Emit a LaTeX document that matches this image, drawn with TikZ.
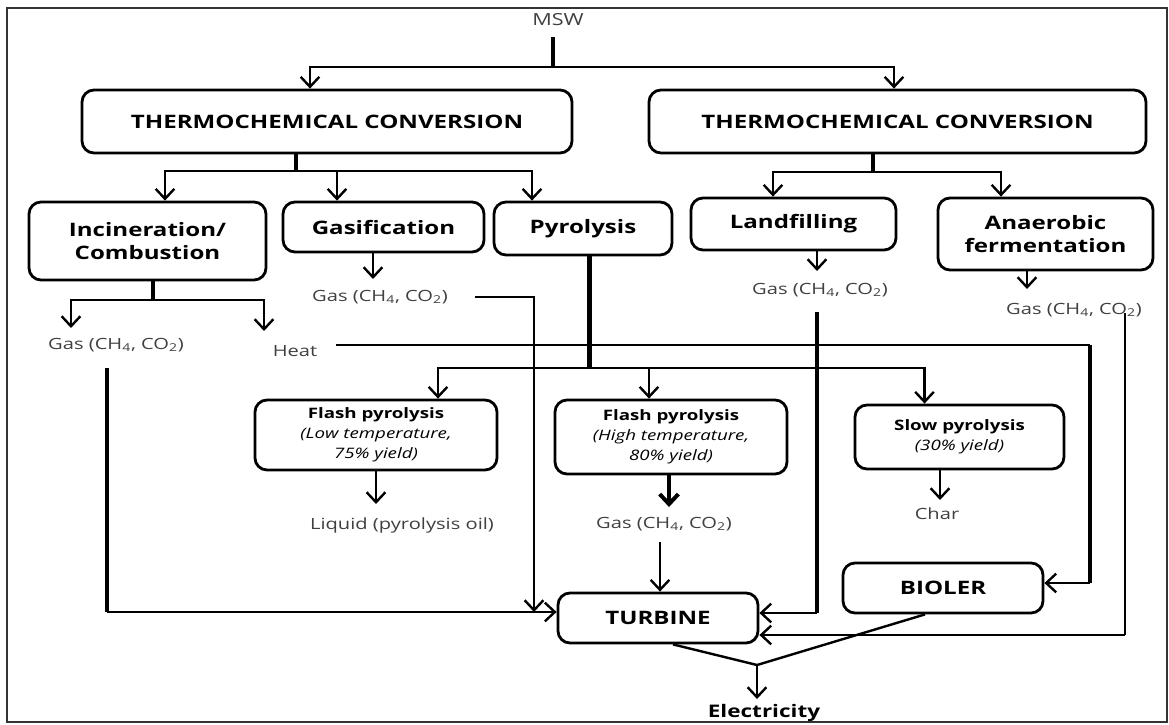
\documentclass[tikz,border=0pt]{standalone}
\usepackage{fontspec}
\setmainfont{Open Sans}[FakeStretch=1.3]
\usetikzlibrary{arrows.meta,calc}
\tikzset{
  box/.style={draw, line width=2.1pt, rounded corners=9pt, align=center, inner sep=0pt,
    font=\bfseries\fontsize{13.9pt}{17.5pt}\selectfont},
  sbox/.style={box, font=\fontsize{10.8pt}{15pt}\selectfont},
  lbl/.style={inner sep=0pt, font=\fontsize{11.6pt}{14pt}\selectfont, text=black!75},
  blbl/.style={inner sep=0pt, font=\bfseries\fontsize{13pt}{15pt}\selectfont},
  arr/.style={line width=1.8pt, -{Straight Barb[length=7.5pt,width=14pt]}},
  ln/.style={line width=1.8pt},
  thk/.style={line width=3pt},
  thn/.style={line width=1.2pt},
}
\begin{document}
\begin{tikzpicture}[x=0.75pt,y=-0.75pt]
\useasboundingbox (0,0) rectangle (1169,724);
\fill[white] (0,0) rectangle (1169,724);
\draw[line width=1.2pt, black!80] (7,8) rectangle (1167,722);

% nodes
\node[lbl, font=\fontsize{12.5pt}{14pt}\selectfont] (msw) at (558,20) {MSW};
\node[box, minimum width=367.5pt, minimum height=47.25pt] (tcL) at (327,121.5) {THERMOCHEMICAL CONVERSION};
\node[box, minimum width=372.75pt, minimum height=47.25pt] (tcR) at (897.5,121.5) {THERMOCHEMICAL CONVERSION};
\node[box, minimum width=177.75pt, minimum height=58.5pt] (inc) at (147.5,241) {Incineration/\\Combustion};
\node[box, minimum width=150.75pt, minimum height=37.5pt] (gas) at (383.5,227) {Gasification};
\node[box, minimum width=133.5pt, minimum height=39.75pt] (pyr) at (583,228.5) {Pyrolysis};
\node[box, minimum width=153.75pt, minimum height=39pt] (land) at (793.5,224) {Landfilling};
\node[box, minimum width=161.25pt, minimum height=54pt] (ana) at (1045.5,234) {Anaerobic\\fermentation};
\node[sbox, minimum width=181.5pt, minimum height=52.5pt] (fpL) at (376,435)
  {\bfseries Flash pyrolysis\\\itshape (Low temperature,\\\itshape 75\% yield)};
\node[sbox, minimum width=174pt, minimum height=55.5pt] (fpH) at (671,437)
  {\bfseries Flash pyrolysis\\\itshape (High temperature,\\\itshape 80\% yield)};
\node[sbox, minimum width=156.75pt, minimum height=48pt] (slow) at (959.5,437)
  {\bfseries Slow pyrolysis\\\itshape (30\% yield)};
\node[box, minimum width=150pt, minimum height=37.5pt] (turb) at (658,618) {TURBINE};
\node[box, minimum width=150pt, minimum height=37.5pt] (boil) at (943,588) {BIOLER};

\node[lbl] (gasI) at (116,345) {Gas (CH\textsubscript{4}, CO\textsubscript{2})};
\node[lbl] (heat) at (295,351) {Heat};
\node[lbl] (gasG) at (380,297) {Gas (CH\textsubscript{4}, CO\textsubscript{2})};
\node[lbl] (gasL) at (820,290) {Gas (CH\textsubscript{4}, CO\textsubscript{2})};
\node[lbl] (gasA) at (1074,310) {Gas (CH\textsubscript{4}, CO\textsubscript{2})};
\node[lbl] (liq) at (402,525) {Liquid (pyrolysis oil)};
\node[lbl] (gasH) at (664,524) {Gas (CH\textsubscript{4}, CO\textsubscript{2})};
\node[lbl] (char) at (937,514) {Char};
\node[blbl] (elec) at (764,713) {Electricity};

% coordinates
\coordinate (m0) at (553,37);
\coordinate (m1) at (553,67);
\coordinate (t1) at (296,171);
\coordinate (t2) at (873,172);
\coordinate (t3) at (153,300);
\coordinate (g1tip) at (71,328);
\coordinate (htip) at (264,331);
\coordinate (gtip) at (373,279);
\coordinate (c1) at (534,297);
\coordinate (c2) at (534,612);
\coordinate (c3) at (107,368);
\coordinate (c4) at (107,612);
\coordinate (h1) at (1090,345);
\coordinate (h2) at (1090,583);
\coordinate (p1) at (589,368);
\coordinate (lqtip) at (376,504);
\coordinate (hgtip) at (669,507);
\coordinate (gh0) at (660,542);
\coordinate (chtip) at (940,500);
\coordinate (ltip) at (817,271);
\coordinate (l1) at (817,312);
\coordinate (l2) at (817,613);
\coordinate (atip) at (1027,289);
\coordinate (a1) at (1125,313);
\coordinate (a2) at (1125,635);
\coordinate (e0) at (757,665);
\coordinate (etip) at (757,699);

% MSW
\draw[thk] (m0) -- (m1);
\draw[arr] (m1) -| ($(tcL.north)+(-17,0)$);
\draw[arr] (m1) -| ($(tcR.north)+(-3.5,0)$);
% left TC
\draw[line width=3.5pt] (t1 |- tcL.south) -- (t1);
\draw[arr] (t1) -| ($(inc.north)+(17.5,0)$);
\draw[arr] (t1) -| ($(gas.north)+(-46.5,0)$);
\draw[arr] (t1) -| ($(pyr.north)+(-51,0)$);
% right TC
\draw[line width=3.5pt] (t2 |- tcR.south) -- (t2);
\draw[arr] (t2) -| ($(land.north)+(-20.5,0)$);
\draw[arr] (t2) -| ($(ana.north)+(-44.5,0)$);
% incineration
\draw[thk] (t3 |- inc.south) -- (t3);
\draw[arr] (t3) -| (g1tip);
\draw[arr] (t3) -| (htip);
% gasification
\draw[arr] (gtip |- gas.south) -- (gtip);
\draw[arr] ($(gasG.east)+(27,0)$) -- (c1) -- (c2);
% left gas to turbine
\draw[thk] (c3) -- (c4);
\draw[arr] (c4) -- (c4 -| turb.west);
% heat to boiler
\draw[ln] ($(heat.east)+(19,-6)$) -- (h1);
\draw[thk] (h1) -- (h2);
\draw[arr] (h2) -- (h2 -| boil.east);
% pyrolysis
\draw[line width=3.75pt] (p1 |- pyr.south) -- (p1);
\draw[arr] (p1) -| ($(fpL.north)+(62,0)$);
\draw[arr] (p1) -| ($(fpH.north)+(-22,0)$);
\draw[arr] (p1) -| ($(slow.north)+(-35,0)$);
\draw[arr] (lqtip |- fpL.south) -- (lqtip);
\draw[arr, line width=3pt] (hgtip |- fpH.south) -- (hgtip);
\draw[arr] (gh0) -- (gh0 |- turb.north);
\draw[arr] (chtip |- slow.south) -- (chtip);
% landfilling
\draw[arr] (ltip |- land.south) -- (ltip);
\draw[thk] (l1) -- (l2);
\draw[arr] (l2) -- (l2 -| turb.east);
% anaerobic
\draw[arr] (atip |- ana.south) -- (atip);
\draw[thn] (a1) -- (a2);
\draw[arr] (a2) -- (a2 -| turb.east);
% electricity
\draw[ln] ($(turb.south)+(15,0)$) -- (e0);
\draw[ln] ($(boil.south)+(-18,0)$) -- (e0);
\draw[arr] (e0) -- (etip);
\end{tikzpicture}
\end{document}
